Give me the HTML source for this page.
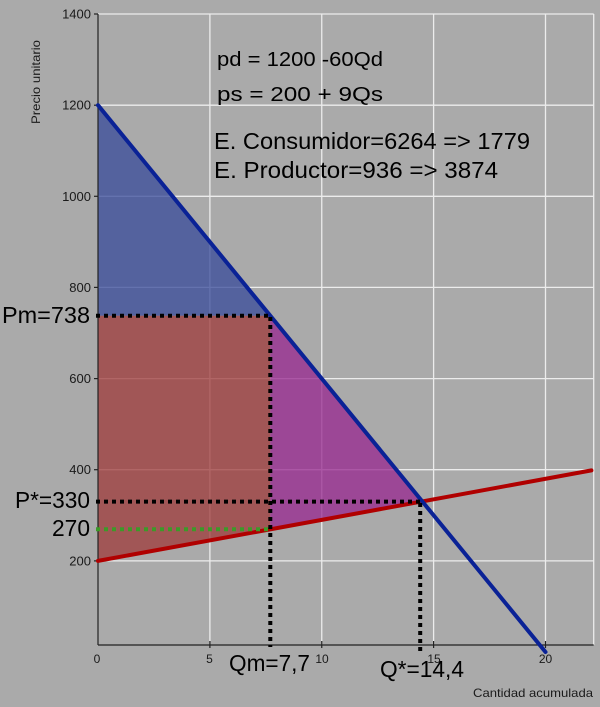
<!DOCTYPE html>
<html><head><meta charset="utf-8"><style>
html,body{margin:0;padding:0;background:#aaaaaa;}
svg{display:block;}
text{font-family:"Liberation Sans",sans-serif;}
</style></head><body>
<svg width="600" height="707" viewBox="0 0 600 707" xmlns="http://www.w3.org/2000/svg">
<rect x="0" y="0" width="600" height="707" fill="#aaaaaa"/>
<!-- gridlines -->
<g stroke="#ececec" stroke-width="1.3" fill="none">
<line x1="98" y1="14" x2="593.7" y2="14"/>
<line x1="98" y1="105.2" x2="593.7" y2="105.2"/>
<line x1="98" y1="196.3" x2="593.7" y2="196.3"/>
<line x1="98" y1="287.4" x2="593.7" y2="287.4"/>
<line x1="98" y1="378.6" x2="593.7" y2="378.6"/>
<line x1="98" y1="469.7" x2="593.7" y2="469.7"/>
<line x1="98" y1="560.9" x2="593.7" y2="560.9"/>
<line x1="209.9" y1="14" x2="209.9" y2="645"/>
<line x1="321.75" y1="14" x2="321.75" y2="645"/>
<line x1="433.6" y1="14" x2="433.6" y2="645"/>
<line x1="545.5" y1="14" x2="545.5" y2="645"/>
<line x1="593.7" y1="14" x2="593.7" y2="645"/>
</g>
<!-- fills -->
<g fill-opacity="0.75">
<polygon points="98,105.2 270.3,315.7 98,315.7" fill="#374a9a"/>
<polygon points="98,315.7 270.3,315.7 270.3,529.3 98,560.9" fill="#9d3a3a"/>
<polygon points="270.3,315.7 420.2,501.6 270.3,529.3" fill="#97258f"/>
</g>
<!-- axes -->
<g stroke="#222" stroke-width="1.2">
<line x1="98" y1="14" x2="98" y2="645"/>
<line x1="98" y1="645" x2="593.7" y2="645"/>
<line x1="94" y1="14" x2="98" y2="14"/>
<line x1="94" y1="105.2" x2="98" y2="105.2"/>
<line x1="94" y1="196.3" x2="98" y2="196.3"/>
<line x1="94" y1="287.4" x2="98" y2="287.4"/>
<line x1="94" y1="378.6" x2="98" y2="378.6"/>
<line x1="94" y1="469.7" x2="98" y2="469.7"/>
<line x1="94" y1="560.9" x2="98" y2="560.9"/>
<line x1="209.9" y1="641" x2="209.9" y2="648"/>
<line x1="321.75" y1="641" x2="321.75" y2="648"/>
<line x1="433.6" y1="641" x2="433.6" y2="648"/>
<line x1="545.5" y1="641" x2="545.5" y2="648"/>
</g>
<!-- series -->
<line x1="98" y1="560.9" x2="591.4" y2="470.4" stroke="#b00000" stroke-width="4" stroke-linecap="round"/>
<line x1="98" y1="105.2" x2="545.5" y2="652" stroke="#0a2296" stroke-width="4" stroke-linecap="round"/>
<!-- dotted -->
<g stroke-width="4" stroke-dasharray="4 4" fill="none">
<line x1="96" y1="315.7" x2="272" y2="315.7" stroke="#000"/>
<line x1="96" y1="501.6" x2="422" y2="501.6" stroke="#000"/>
<line x1="96" y1="529.3" x2="272" y2="529.3" stroke="#3c9a28"/>
<line x1="270.3" y1="317" x2="270.3" y2="647" stroke="#000"/>
<line x1="420.2" y1="503" x2="420.2" y2="655" stroke="#000"/>
</g>
<!-- tick labels -->
<g font-size="13" fill="#1a1a1a" text-anchor="end">
<text x="91" y="18.5">1400</text>
<text x="91" y="109.7">1200</text>
<text x="91" y="200.8">1000</text>
<text x="91" y="291.9">800</text>
<text x="91" y="383.1">600</text>
<text x="91" y="474.2">400</text>
<text x="91" y="565.4">200</text>
</g>
<g font-size="12" fill="#1a1a1a" text-anchor="middle">
<text x="97" y="663">0</text>
<text x="209.5" y="663">5</text>
<text x="322" y="663">10</text>
<text x="434" y="663">15</text>
<text x="545.5" y="663">20</text>
</g>
<text x="0" y="0" font-size="12" fill="#1a1a1a" text-anchor="middle" transform="translate(40,82) rotate(-90)" textLength="84" lengthAdjust="spacingAndGlyphs">Precio unitario</text>
<text x="473" y="697" font-size="12" fill="#1a1a1a" textLength="120" lengthAdjust="spacingAndGlyphs">Cantidad acumulada</text>
<!-- annotations -->
<g fill="#000">
<text x="217" y="66" font-size="20" textLength="166" lengthAdjust="spacingAndGlyphs">pd = 1200 -60Qd</text>
<text x="217" y="101" font-size="20" textLength="166" lengthAdjust="spacingAndGlyphs">ps = 200 + 9Qs</text>
<text x="214" y="149" font-size="23" textLength="316" lengthAdjust="spacingAndGlyphs">E. Consumidor=6264 =&gt; 1779</text>
<text x="214" y="178" font-size="23" textLength="284" lengthAdjust="spacingAndGlyphs">E. Productor=936 =&gt; 3874</text>
<text x="2" y="323" font-size="23" textLength="88" lengthAdjust="spacingAndGlyphs">Pm=738</text>
<text x="15" y="508" font-size="23" textLength="75" lengthAdjust="spacingAndGlyphs">P*=330</text>
<text x="52" y="536" font-size="23" textLength="38" lengthAdjust="spacingAndGlyphs">270</text>
<text x="229" y="671" font-size="23" textLength="81" lengthAdjust="spacingAndGlyphs">Qm=7,7</text>
<text x="380" y="677" font-size="23" textLength="84" lengthAdjust="spacingAndGlyphs">Q*=14,4</text>
</g>
</svg>
</body></html>
